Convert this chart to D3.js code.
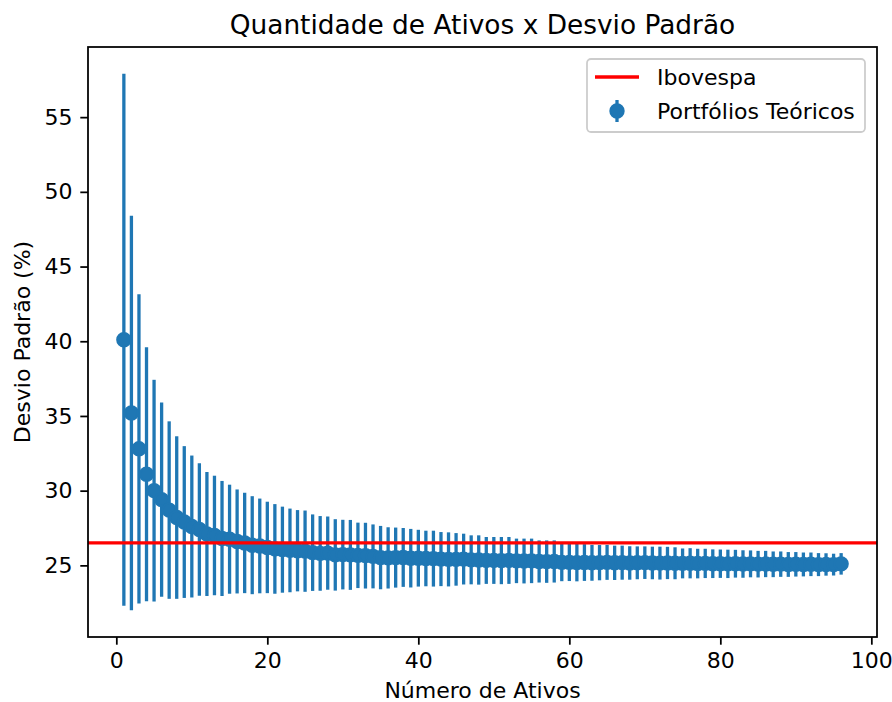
<!DOCTYPE html>
<html>
<head>
<meta charset="utf-8">
<script src="https://cdn.jsdelivr.net/npm/d3@7"></script>
<style>
  body { margin: 0; background: #fff; }
  svg { display: block; font-family: "DejaVu Sans", sans-serif; }
</style>
</head>
<body>
<div id="chart"></div>
<script>
// Number of assets in each theoretical portfolio
const assets = d3.range(1, 97);

// Mean standard deviation (%) per portfolio size
const means = [
    40.1, 35.2, 32.8, 31.1, 30.0, 29.4, 28.7, 28.2, 27.9, 27.6,
    27.4, 27.1, 27.0, 26.8, 26.75, 26.6, 26.5, 26.35, 26.3, 26.2,
    26.1, 26.05, 26.0, 25.98, 25.95, 25.85, 25.8, 25.82, 25.7, 25.72,
    25.7, 25.67, 25.65, 25.6, 25.52, 25.5, 25.52, 25.53, 25.48, 25.48,
    25.46, 25.45, 25.42, 25.4, 25.4, 25.42, 25.37, 25.36, 25.33, 25.33,
    25.32, 25.33, 25.3, 25.29, 25.3, 25.26, 25.25, 25.26, 25.2, 25.2,
    25.18, 25.19, 25.17, 25.18, 25.2, 25.17, 25.18, 25.16, 25.17, 25.18,
    25.16, 25.15, 25.16, 25.14, 25.13, 25.14, 25.12, 25.13, 25.11, 25.11,
    25.1, 25.11, 25.09, 25.1, 25.08, 25.09, 25.07, 25.08, 25.06, 25.07,
    25.06, 25.07, 25.05, 25.06, 25.05, 25.1
];

// Error bar half-length (one standard deviation across portfolios)
const errors = [
    17.8, 13.2, 10.35, 8.5, 7.42, 6.5, 5.94, 5.44, 5.08, 4.75,
    4.43, 4.15, 4.0, 3.85, 3.65, 3.48, 3.36, 3.28, 3.17, 3.06,
    3.0, 2.88, 2.8, 2.72, 2.72, 2.56, 2.5, 2.45, 2.39, 2.33,
    2.34, 2.19, 2.2, 2.14, 2.12, 2.05, 2.01, 1.97, 1.96, 1.9,
    1.86, 1.87, 1.81, 1.81, 1.76, 1.7, 1.64, 1.65, 1.57, 1.57,
    1.58, 1.57, 1.49, 1.5, 1.49, 1.41, 1.42, 1.41, 1.26, 1.25,
    1.25, 1.23, 1.2, 1.18, 1.17, 1.15, 1.14, 1.12, 1.1, 1.09,
    1.09, 1.1, 1.08, 1.07, 1.0, 1.01, 0.99, 0.98, 0.96, 0.95,
    0.95, 0.93, 0.92, 0.9, 0.89, 0.88, 0.86, 0.85, 0.83, 0.82,
    0.8, 0.79, 0.77, 0.75, 0.73, 0.72
];

const ibovespa = 26.5;

const xTicks = [0, 20, 40, 60, 80, 100];
const yTicks = [25, 30, 35, 40, 45, 50, 55];

const data = assets.map((n, i) => ({ n: n, mean: means[i], err: errors[i] }));

// Set up dimensions
const width = 892;
const height = 702;
const marginTop = 47;
const marginRight = 15;
const marginBottom = 65;
const marginLeft = 88;

const blue = "#1f77b4";
const fontSize = 22;

const svg = d3.create("svg")
    .attr("width", width)
    .attr("height", height)
    .attr("viewBox", [0, 0, width, height]);

// Scales with matplotlib-like 5% margins
const xMin = d3.min(assets), xMax = d3.max(assets);
const xPad = (xMax - xMin) * 0.05;
const x = d3.scaleLinear([xMin - xPad, xMax + xPad], [marginLeft, width - marginRight]);

const yLo = d3.min(data, d => d.mean - d.err);
const yHi = d3.max(data, d => d.mean + d.err);
const yPad = (yHi - yLo) * 0.05;
const y = d3.scaleLinear([yLo - yPad, yHi + yPad], [height - marginBottom, marginTop]);

// Error bars
svg.append("g")
    .attr("stroke", blue)
    .attr("stroke-width", 3.3)
    .selectAll("line")
    .data(data)
    .join("line")
    .attr("x1", d => x(d.n))
    .attr("x2", d => x(d.n))
    .attr("y1", d => y(d.mean - d.err))
    .attr("y2", d => y(d.mean + d.err));

// Markers
svg.append("g")
    .attr("fill", blue)
    .attr("stroke", blue)
    .attr("stroke-width", 2.2)
    .selectAll("circle")
    .data(data)
    .join("circle")
    .attr("cx", d => x(d.n))
    .attr("cy", d => y(d.mean))
    .attr("r", 6.6);

// Ibovespa reference line
svg.append("line")
    .attr("x1", marginLeft)
    .attr("x2", width - marginRight)
    .attr("y1", y(ibovespa))
    .attr("y2", y(ibovespa))
    .attr("stroke", "#ff0000")
    .attr("stroke-width", 3.3);

// Axes
const xAxis = d3.axisBottom(x).tickValues(xTicks).tickSize(7.7).tickPadding(7.7);
svg.append("g")
    .attr("transform", `translate(0,${height - marginBottom})`)
    .call(xAxis)
    .call(g => g.select(".domain").remove())
    .call(g => g.selectAll("line").attr("stroke", "#000").attr("stroke-width", 1.76))
    .call(g => g.selectAll("text")
        .attr("fill", "#000")
        .style("font-family", "DejaVu Sans")
        .style("font-size", fontSize + "px"));

const yAxis = d3.axisLeft(y).tickValues(yTicks).tickSize(7.7).tickPadding(7.7);
svg.append("g")
    .attr("transform", `translate(${marginLeft},0)`)
    .call(yAxis)
    .call(g => g.select(".domain").remove())
    .call(g => g.selectAll("line").attr("stroke", "#000").attr("stroke-width", 1.76))
    .call(g => g.selectAll("text")
        .attr("fill", "#000")
        .style("font-family", "DejaVu Sans")
        .style("font-size", fontSize + "px"));

// Frame
svg.append("rect")
    .attr("x", marginLeft)
    .attr("y", marginTop)
    .attr("width", width - marginRight - marginLeft)
    .attr("height", height - marginBottom - marginTop)
    .attr("fill", "none")
    .attr("stroke", "#000")
    .attr("stroke-width", 1.76);

// Title and axis labels
const cx = (marginLeft + width - marginRight) / 2;
svg.append("text")
    .attr("x", cx)
    .attr("y", 34)
    .attr("text-anchor", "middle")
    .attr("font-size", "26.4px")
    .text("Quantidade de Ativos x Desvio Padrão");

svg.append("text")
    .attr("x", cx)
    .attr("y", 698)
    .attr("text-anchor", "middle")
    .attr("font-size", fontSize + "px")
    .text("Número de Ativos");

svg.append("text")
    .attr("transform", `translate(30,${(marginTop + height - marginBottom) / 2}) rotate(-90)`)
    .attr("text-anchor", "middle")
    .attr("font-size", fontSize + "px")
    .text("Desvio Padrão (%)");

// Legend
const legend = svg.append("g").attr("transform", "translate(587,59)");
legend.append("rect")
    .attr("width", 278)
    .attr("height", 73)
    .attr("rx", 4)
    .attr("fill", "#fff")
    .attr("fill-opacity", 0.8)
    .attr("stroke", "#cccccc")
    .attr("stroke-width", 1.76);

legend.append("line")
    .attr("x1", 8).attr("x2", 52)
    .attr("y1", 18).attr("y2", 18)
    .attr("stroke", "#ff0000")
    .attr("stroke-width", 3.3);
legend.append("text")
    .attr("x", 70)
    .attr("y", 26)
    .attr("font-size", fontSize + "px")
    .text("Ibovespa");

legend.append("line")
    .attr("x1", 30).attr("x2", 30)
    .attr("y1", 41).attr("y2", 63)
    .attr("stroke", blue)
    .attr("stroke-width", 3.3);
legend.append("circle")
    .attr("cx", 30).attr("cy", 52)
    .attr("r", 6.6)
    .attr("fill", blue)
    .attr("stroke", blue)
    .attr("stroke-width", 2.2);
legend.append("text")
    .attr("x", 70)
    .attr("y", 60)
    .attr("font-size", fontSize + "px")
    .text("Portfólios Teóricos");

document.getElementById("chart").appendChild(svg.node());
</script>
</body>
</html>
